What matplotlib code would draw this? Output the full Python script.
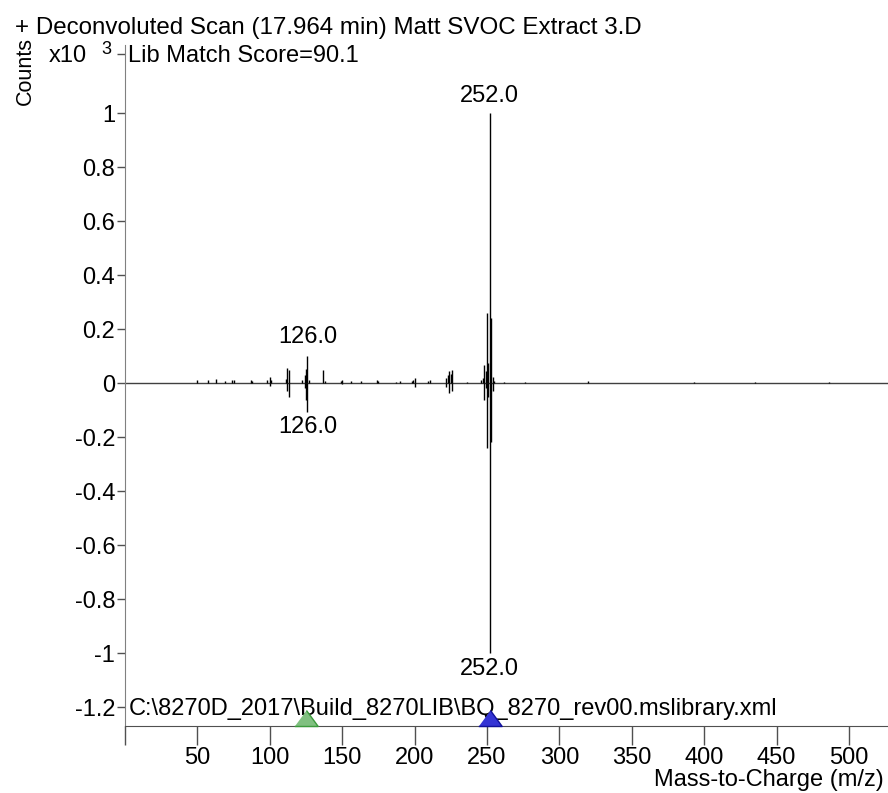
import numpy as np
import matplotlib
matplotlib.use('Agg')
import matplotlib.pyplot as plt

plt.rcParams['font.family'] = ['Liberation Sans', 'DejaVu Sans']

# deconvoluted scan (positive side), x10^3 counts
scan_mz = [50, 57, 63, 69, 74, 75, 87, 88, 98, 100, 101, 111, 112, 113, 122, 124, 125, 126, 127,
           137, 138, 149, 150, 156, 163, 174, 175, 187, 190, 198, 199, 200, 209, 211, 222, 223,
           224, 225, 226, 236, 246, 247, 248, 249, 250, 251, 252, 253, 254, 255, 262, 276, 320,
           393, 435, 486]
scan_int = [0.012, 0.010, 0.015, 0.006, 0.010, 0.012, 0.010, 0.008, 0.010, 0.022, 0.012, 0.015,
            0.055, 0.050, 0.010, 0.030, 0.052, 0.100, 0.012, 0.050, 0.008, 0.008, 0.012, 0.006,
            0.006, 0.010, 0.008, 0.005, 0.006, 0.008, 0.010, 0.018, 0.006, 0.010, 0.020, 0.030,
            0.045, 0.035, 0.048, 0.005, 0.010, 0.018, 0.067, 0.045, 0.260, 0.075, 1.000, 0.240,
            0.022, 0.008, 0.005, 0.003, 0.006, 0.003, 0.003, 0.003]

# library spectrum (mirrored, negative side)
lib_mz = [100, 112, 113, 124, 125, 126, 150, 200, 222, 224, 226, 248, 249, 250, 251, 252, 253, 254]
lib_int = [0.010, 0.030, 0.050, 0.020, 0.063, 0.106, 0.005, 0.014, 0.015, 0.037, 0.030,
           0.063, 0.020, 0.240, 0.050, 1.000, 0.220, 0.030]

ytick_vals = [1, 0.8, 0.6, 0.4, 0.2, 0, -0.2, -0.4, -0.6, -0.8, -1, -1.2]
ytick_labels = ['1', '0.8', '0.6', '0.4', '0.2', '0', '-0.2', '-0.4', '-0.6', '-0.8', '-1', '-1.2']
xtick_vals = [0, 50, 100, 150, 200, 250, 300, 350, 400, 450, 500]
xtick_labels = [''] + [str(v) for v in xtick_vals[1:]]

FS = 17
W, H = 888, 793
fig = plt.figure(figsize=(W / 100, H / 100), dpi=100)
ax = fig.add_axes([125 / W, 1 - 726 / H, 1 - 125 / W, (726 - 45) / H])

ax.axhline(0, color='#404040', lw=1.0, zorder=1)
ax.vlines(scan_mz, 0, scan_int, color='black', lw=1.0, zorder=2)
ax.vlines(lib_mz, 0, -np.array(lib_int), color='black', lw=1.0, zorder=2)

ax.set_xlim(0, 527)
ax.set_ylim(-1.27, 1.252)

ax.set_yticks(ytick_vals + [1.22])
ax.set_yticklabels(ytick_labels + [''])
ax.set_xticks(xtick_vals)
ax.set_xticklabels(xtick_labels)
ax.tick_params(axis='y', direction='out', length=6, width=1, color='#505050',
               labelsize=FS, pad=1)
ax.tick_params(axis='x', direction='out', length=14, width=1, color='#505050',
               labelsize=FS, pad=1)

for s in ['top', 'right']:
    ax.spines[s].set_visible(False)
ax.spines['left'].set_color('#808080')
ax.spines['bottom'].set_color('#505050')

# peak labels
def peak_label(x, y, dy):
    ax.annotate(f'{x:.1f}', xy=(x, y), xytext=(0, dy), textcoords='offset pixels',
                ha='center', va='center', fontsize=FS)

peak_label(252.0, 1.0, 17)
peak_label(126.0, 0.100, 19)
peak_label(126.0, -0.106, -15)
peak_label(252.0, -1.0, -16)

# markers sitting on the x axis (base on axis line)
tri = [(-11, 0), (11, 0), (0, 15)]
ax.plot([125], [0], marker=tri, ms=23, mfc='#80c080', mec='#3c9a3c', mew=1,
        transform=ax.get_xaxis_transform(), clip_on=False, zorder=5)
ax.plot([252], [0], marker=tri, ms=23, mfc='#3434d4', mec='#10109a', mew=1,
        transform=ax.get_xaxis_transform(), clip_on=False, zorder=5)

ax.text(3 / (W - 125), 1 - (56 - 45) / (726 - 45), 'Lib Match Score=90.1',
        transform=ax.transAxes, ha='left', va='center', fontsize=FS)
ax.text(4 / (W - 125), 1 - (709 - 45) / (726 - 45),
        'C:\\8270D_2017\\Build_8270LIB\\BQ_8270_rev00.mslibrary.xml',
        transform=ax.transAxes, ha='left', va='center', fontsize=FS)

fig.text(15 / W, 1 - 28 / H, '+ Deconvoluted Scan (17.964 min) Matt SVOC Extract 3.D',
         ha='left', va='center', fontsize=17.4)
fig.text(25 / W, 1 - 71 / H, 'Counts', rotation=90, ha='center', va='center', fontsize=15.5)
fig.text(49 / W, 1 - 56 / H, 'x10', ha='left', va='center', fontsize=FS)
fig.text(101 / W, 1 - 49 / H, '3', ha='left', va='center', fontsize=13)
fig.text(884 / W, 1 - 780 / H, 'Mass-to-Charge (m/z)', ha='right', va='center', fontsize=FS)

fig.savefig('out.png', dpi=100)
